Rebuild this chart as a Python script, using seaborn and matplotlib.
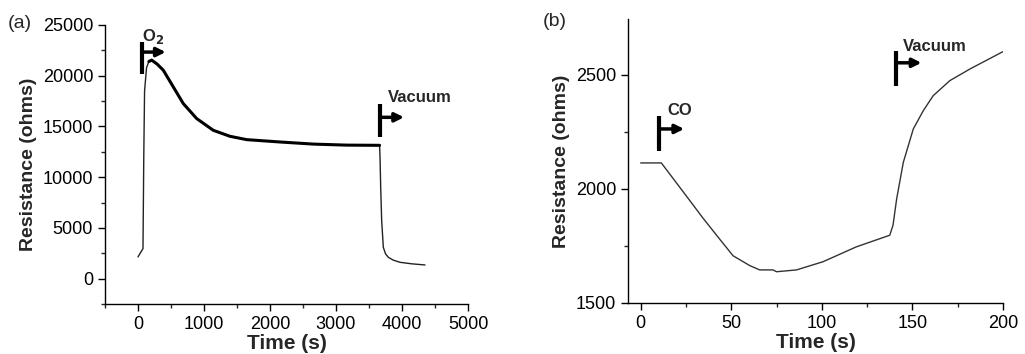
import numpy as np
import pandas as pd
import matplotlib
matplotlib.use("Agg")
import matplotlib.pyplot as plt
from matplotlib.ticker import MultipleLocator
import seaborn as sns

# panel (a): O2 exposure then vacuum
time_a = [0, 76, 88, 100, 130, 165, 207, 290, 383, 535, 686, 889, 1141, 1394, 1647,
          2150, 2660, 3165, 3660, 3667, 3677, 3692, 3717, 3750, 3793, 3870, 3970, 4150, 4348]
res_a = [2140, 2960, 12000, 18500, 20800, 21400, 21540, 21150, 20550, 18900, 17260,
         15780, 14620, 14030, 13700, 13470, 13260, 13160, 13140, 12000, 9020, 5730,
         3090, 2450, 2100, 1820, 1610, 1460, 1350]

# panel (b): CO exposure then vacuum
time_b = [0, 11.4, 23.4, 34.4, 43.6, 51, 60.2, 65.7, 73, 75, 86, 100.7, 119, 137.5,
          139.3, 141.3, 145, 150.5, 156, 161.5, 170.7, 181.8, 200]
res_b = [2114, 2114, 1988, 1872, 1780, 1707, 1664, 1645, 1645, 1637, 1645, 1681, 1746,
         1797, 1841, 1956, 2117, 2263, 2343, 2409, 2475, 2526, 2602]

df_a = pd.DataFrame({"t": time_a, "R": res_a})
df_b = pd.DataFrame({"t": time_b, "R": res_b})

sns.set_style("ticks")
plt.rcParams['font.family'] = ['Liberation Sans', 'DejaVu Sans']

fig = plt.figure(figsize=(10.25, 3.54), dpi=100)
ax1 = fig.add_axes([0.1024, 0.1412, 0.3542, 0.7882])
ax2 = fig.add_axes([0.6127, 0.1441, 0.3658, 0.8022])

# thin rise / drop, thick noisy plateau in (a)
sns.lineplot(data=df_a, x="t", y="R", ax=ax1, color="#222222", lw=1.0, sort=False)
thick = df_a[(df_a.t >= 165) & (df_a.t <= 3660)]
sns.lineplot(data=thick, x="t", y="R", ax=ax1, color="black", lw=2.2, sort=False)
sns.lineplot(data=df_b, x="t", y="R", ax=ax2, color="#333333", lw=1.0, sort=False)


def marker(ax, x, y0, y1, ya, xa, label, tx, ty, fs=12):
    ax.plot([x, x], [y0, y1], color="black", lw=3, solid_capstyle="butt")
    ax.annotate("", xy=(xa, ya), xytext=(x, ya),
                arrowprops=dict(arrowstyle="-|>", lw=2.5, color="black",
                                mutation_scale=13, shrinkA=0, shrinkB=0))
    ax.text(tx, ty, label, fontsize=fs, fontweight="bold", ha="left", va="center")


marker(ax1, 60, 20150, 23300, 22330, 420, r"O$_\mathbf{2}$", 60, 23900)
marker(ax1, 3667, 13930, 17190, 15900, 4030, "Vacuum", 3790, 17900)
marker(ax2, 10, 2167, 2320, 2263, 24, "CO", 14.5, 2345)
marker(ax2, 141, 2452, 2605, 2553, 155, "Vacuum", 144.5, 2625)

ax1.set_xlim(-500, 5000)
ax1.set_ylim(-2500, 25000)
ax1.xaxis.set_major_locator(MultipleLocator(1000))
ax1.xaxis.set_minor_locator(MultipleLocator(500))
ax1.yaxis.set_major_locator(MultipleLocator(5000))
ax1.yaxis.set_minor_locator(MultipleLocator(2500))

ax2.set_xlim(-7, 200)
ax2.set_ylim(1500, 2745)
ax2.xaxis.set_major_locator(MultipleLocator(50))
ax2.xaxis.set_minor_locator(MultipleLocator(25))
ax2.yaxis.set_major_locator(MultipleLocator(500))
ax2.yaxis.set_minor_locator(MultipleLocator(250))

for ax in (ax1, ax2):
    sns.despine(ax=ax)
    for s in ("left", "bottom"):
        ax.spines[s].set_linewidth(1.0)
        ax.spines[s].set_color("black")
    ax.tick_params(which="major", length=5, width=1, labelsize=13, colors="black")
    ax.tick_params(which="minor", length=3, width=1)
    ax.set_xlabel("Time (s)", fontsize=15, fontweight="bold", labelpad=1)
    ax.set_ylabel("Resistance (ohms)", fontsize=14, fontweight="bold", labelpad=4)

fig.text(0.008, 0.935, "(a)", fontsize=14, va="center")
fig.text(0.530, 0.94, "(b)", fontsize=14, va="center")

fig.savefig("out.png", dpi=100)
